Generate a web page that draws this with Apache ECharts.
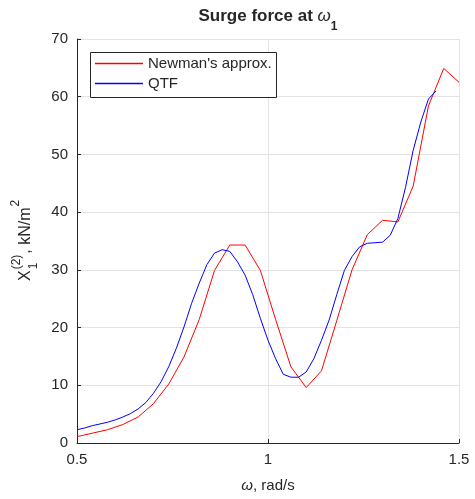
<!DOCTYPE html>
<html>
<head>
<meta charset="utf-8">
<script src="https://cdn.jsdelivr.net/npm/echarts@6/dist/echarts.min.js"></script>
<style>
  html, body { margin: 0; padding: 0; background: #fff; }
  #chart { width: 475px; height: 499px; }
</style>
</head>
<body>
<div id="chart"></div>
<script>
// Newman's approximation, sampled every 0.04 rad/s
var newmanOmega = [0.50, 0.54, 0.58, 0.62, 0.66, 0.70, 0.74, 0.78, 0.82, 0.86,
                   0.90, 0.94, 0.98, 1.02, 1.06, 1.10, 1.14, 1.18, 1.22, 1.26,
                   1.30, 1.34, 1.38, 1.42, 1.46, 1.50];
var newmanForce = [1.1, 1.7, 2.3, 3.2, 4.5, 6.8, 10.2, 14.9, 21.4, 29.9,
                   34.3, 34.3, 29.9, 21.4, 13.2, 9.6, 12.5, 21.2, 30.0, 36.1,
                   38.6, 38.3, 44.5, 58.4, 64.9, 62.5];

// Full QTF diagonal, sampled every 0.02 rad/s
var qtfOmega = [0.50, 0.52, 0.54, 0.56, 0.58, 0.60, 0.62, 0.64, 0.66, 0.68,
                0.70, 0.72, 0.74, 0.76, 0.78, 0.80, 0.82, 0.84, 0.86, 0.88,
                0.90, 0.92, 0.94, 0.96, 0.98, 1.00, 1.02, 1.04, 1.06, 1.08,
                1.10, 1.12, 1.14, 1.16, 1.18, 1.20, 1.22, 1.24, 1.26, 1.28,
                1.30, 1.32, 1.34, 1.36, 1.38, 1.40, 1.42, 1.44];
var qtfForce = [2.3, 2.6, 3.0, 3.3, 3.6, 4.0, 4.5, 5.1, 5.9, 7.0,
                8.6, 10.6, 13.2, 16.4, 20.1, 24.2, 27.7, 30.9, 32.9, 33.5,
                33.2, 31.4, 29.1, 25.7, 21.6, 17.8, 14.6, 11.9, 11.4, 11.4,
                12.3, 14.6, 17.8, 21.3, 25.7, 29.9, 32.3, 34.0, 34.6, 34.7,
                34.8, 36.0, 38.9, 44.3, 50.7, 55.6, 59.6, 61.0];

var seriesNames = ["Newman's approx.", 'QTF'];
var seriesColors = ['#ff0000', '#0000ff'];
var xTicks = [0.5, 1, 1.5];
var xTickLabels = ['0.5', '1', '1.5'];
var yTicks = [0, 10, 20, 30, 40, 50, 60, 70];

function pairs(xs, ys) {
  return xs.map(function (x, i) { return [x, ys[i]]; });
}

var FONT = '"Liberation Sans", Arial, Helvetica, sans-serif';
var INK = '#262626';

var ctx = document.createElement('canvas').getContext('2d');
function textWidth(text, font) {
  ctx.font = font;
  return ctx.measureText(text).width;
}

var chart = echarts.init(document.getElementById('chart'), null, { renderer: 'canvas' });

var gridLeft = 77, gridRight = 16, gridTop = 39, gridBottom = 56;
var plotCx = gridLeft + (475 - gridLeft - gridRight) / 2;

// Title: "Surge force at ω" with subscript 1
var tFont = 'bold 17px ' + FONT;
var tOmegaFont = 'italic 17px ' + FONT;
var tSubFont = 'bold 12px ' + FONT;
var tMain = 'Surge force at ';
var wMain = textWidth(tMain, tFont);
var wOmega = textWidth('\u03c9', tOmegaFont);
var wSub = textWidth('1', tSubFont);
var tStart = plotCx - (wMain + wOmega + wSub) / 2;

// Y label pieces: X_1^(2), kN/m^2 (offsets along the rotated baseline)
var yFont = '16px ' + FONT;
var ySmall = '12px ' + FONT;
var wX = textWidth('X', yFont);
var wSup = Math.max(textWidth('(2)', ySmall), textWidth('1', ySmall));
var wUnit = textWidth(', kN/m', yFont);

function txt(text, x, y, font, extra) {
  var s = { text: text, x: x, y: y, font: font, fill: INK, align: 'left', verticalAlign: 'middle' };
  if (extra) for (var k in extra) s[k] = extra[k];
  return { type: 'text', style: s, silent: true };
}

// Legend box in the upper-left corner of the plot
var legendFont = '15px ' + FONT;
var legendBox = { x: 90, y: 52, rowGap: 20, lineLen: 48 };
function legendElements() {
  var textW = Math.max.apply(null, seriesNames.map(function (n) { return textWidth(n, legendFont); }));
  var w = 5 + legendBox.lineLen + 5 + textW + 4;
  var h = 45;
  var els = [{
    type: 'rect',
    silent: true,
    shape: { x: legendBox.x + 0.5, y: legendBox.y + 0.5, width: Math.round(w), height: h },
    style: { fill: '#ffffff', stroke: INK, lineWidth: 1 },
    z: 100
  }];
  seriesNames.forEach(function (n, i) {
    var cy = legendBox.y + 11 + i * legendBox.rowGap;
    els.push({
      type: 'line',
      silent: true,
      shape: { x1: legendBox.x + 5, y1: cy + 0.5, x2: legendBox.x + 5 + legendBox.lineLen, y2: cy + 0.5 },
      style: { stroke: seriesColors[i], lineWidth: 1.5 },
      z: 101
    });
    var t = txt(n, legendBox.x + 10 + legendBox.lineLen, cy + 1, legendFont);
    t.z = 101;
    els.push(t);
  });
  return els;
}

var option = {
  animation: false,
  backgroundColor: '#ffffff',
  color: seriesColors,
  grid: { left: gridLeft, right: gridRight, top: gridTop, bottom: gridBottom, containLabel: false },
  xAxis: {
    type: 'value',
    min: 0.5,
    max: 1.5,
    interval: 0.5,
    axisLine: { show: true, lineStyle: { color: INK, width: 1 } },
    axisTick: { show: true, inside: true, length: 4, lineStyle: { color: INK } },
    axisLabel: {
      fontFamily: FONT, fontSize: 15, color: INK, margin: 9,
      formatter: function (v) {
        var i = xTicks.indexOf(+v.toFixed(2));
        return i >= 0 ? xTickLabels[i] : '';
      }
    },
    splitLine: { show: true, lineStyle: { color: '#e3e3e3', width: 1 } }
  },
  yAxis: {
    type: 'value',
    min: yTicks[0],
    max: yTicks[yTicks.length - 1],
    interval: 10,
    axisLine: { show: true, lineStyle: { color: INK, width: 1 } },
    axisTick: { show: true, inside: true, length: 4, lineStyle: { color: INK } },
    axisLabel: { fontFamily: FONT, fontSize: 15, color: INK, margin: 9 },
    splitLine: { show: true, lineStyle: { color: '#e3e3e3', width: 1 } }
  },
  series: [
    {
      name: seriesNames[0],
      type: 'line',
      data: pairs(newmanOmega, newmanForce),
      showSymbol: false,
      symbol: 'none',
      lineStyle: { color: seriesColors[0], width: 1 },
      z: 3
    },
    {
      name: seriesNames[1],
      type: 'line',
      data: pairs(qtfOmega, qtfForce),
      showSymbol: false,
      symbol: 'none',
      lineStyle: { color: seriesColors[1], width: 1 },
      z: 4
    }
  ],
  graphic: [
    // title
    txt(tMain, tStart, 16, tFont),
    txt('\u03c9', tStart + wMain, 16, tOmegaFont),
    txt('1', tStart + wMain + wOmega, 27, tSubFont),
    // x-axis label
    {
      type: 'group',
      silent: true,
      children: (function () {
        var f = '15px ' + FONT;
        var wo = textWidth('\u03c9', 'italic ' + f);
        var wr = textWidth(', rad/s', f);
        var sx = plotCx - (wo + wr) / 2;
        return [
          txt('\u03c9', sx, 486, 'italic ' + f),
          txt(', rad/s', sx + wo, 486, f)
        ];
      })()
    },
    // y-axis label, rotated to read bottom-to-top
    {
      type: 'group',
      x: 26,
      y: 281,
      rotation: Math.PI / 2,
      silent: true,
      children: [
        txt('X', 0, 0, yFont),
        txt('(2)', wX + 1, -9, ySmall),
        txt('1', wX + 1, 8, ySmall),
        txt(', kN/m', wX + wSup + 2, 0, yFont),
        txt('2', wX + wSup + wUnit + 3, -10, ySmall)
      ]
    }
  ].concat(legendElements())
};

chart.setOption(option);
</script>
</body>
</html>
